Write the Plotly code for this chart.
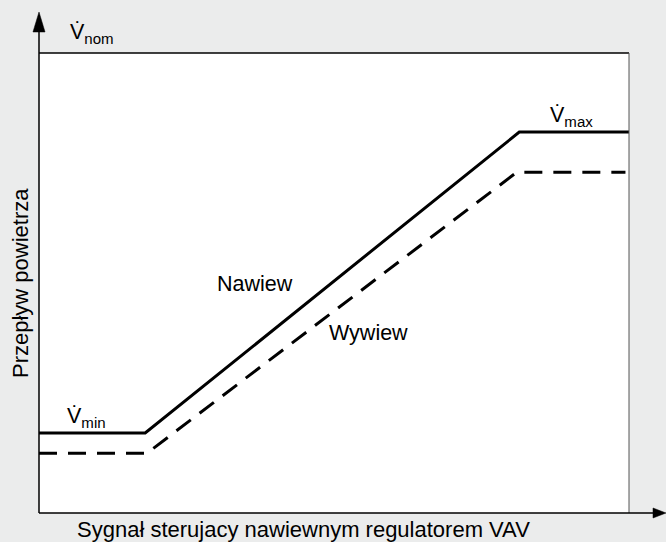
import plotly.graph_objects as go

# data
signal = [0, 18, 81.4, 100]
supply = [17.4, 17.4, 82.8, 82.8]
signal_ex = [0, 18.3, 81.0, 99.4]
exhaust = [13.0, 13.0, 74.1, 74.1]

BG = "#ebecec"
FONT = "Liberation Sans, Arial, sans-serif"
FS = 22

fig = go.Figure()
fig.add_trace(go.Scatter(x=signal, y=supply, mode="lines",
                         line=dict(color="black", width=3), hoverinfo="skip"))
fig.add_trace(go.Scatter(x=signal_ex, y=exhaust, mode="lines",
                         line=dict(color="black", width=3, dash="18px,11px"), hoverinfo="skip"))

shapes = [
    dict(type="line", xref="paper", yref="paper", x0=0, y0=1, x1=1, y1=1,
         line=dict(color="black", width=1.5)),
    dict(type="line", xref="paper", yref="paper", x0=1, y0=0, x1=1, y1=1,
         line=dict(color="#555", width=1)),
    dict(type="line", xref="paper", yref="paper", x0=0, y0=0, x1=0, y1=1.05,
         line=dict(color="black", width=1.5)),
    dict(type="path", xref="paper", yref="paper",
         path="M -0.0102 1.0457 L 0 1.089 L 0.0102 1.0457 Z",
         fillcolor="black", line=dict(color="black", width=0.5)),
    dict(type="line", xref="paper", yref="paper", x0=0, y0=0, x1=1.045, y1=0,
         line=dict(color="black", width=1.5)),
    dict(type="path", xref="paper", yref="paper",
         path="M 1.0407 -0.0109 L 1.0627 0 L 1.0407 0.0109 Z",
         fillcolor="black", line=dict(color="black", width=0.5)),
]

f = dict(family=FONT, size=FS, color="black")
fs = dict(family=FONT, size=21.5, color="black")
annotations = [
    dict(text="Nawiew", x=36.6, y=49.8, xref="x", yref="y", showarrow=False, font=fs),
    dict(text="Wywiew", x=55.9, y=39.1, xref="x", yref="y", showarrow=False, font=fs),
    dict(text="V\u0307<sub>max</sub>", x=86.3, y=82.8, xref="x", yref="y", showarrow=False,
         font=fs, xanchor="left", yanchor="bottom", yshift=0),
    dict(text="V\u0307<sub>min</sub>", x=4.4, y=17.4, xref="x", yref="y", showarrow=False,
         font=fs, xanchor="left", yanchor="bottom", yshift=0),
    dict(text="V\u0307<sub>nom</sub>", x=4.9, y=1.0, xref="x", yref="paper", showarrow=False,
         font=fs, xanchor="left", yanchor="bottom", yshift=4),
    dict(text="Przepływ powietrza", x=0, y=0.50, xref="paper", yref="paper",
         showarrow=False, font=f, textangle=-90, xanchor="center", yanchor="middle", xshift=-19),
    dict(text="Sygnał sterujacy nawiewnym regulatorem VAV", x=0.449, y=0, xref="paper",
         yref="paper", showarrow=False, font=f, yanchor="top", yshift=-2),
]

fig.update_layout(
    width=666, height=542,
    margin=dict(l=39, r=37, t=53, b=29),
    paper_bgcolor=BG, plot_bgcolor="white",
    showlegend=False,
    xaxis=dict(range=[0, 100], showgrid=False, zeroline=False, showticklabels=False,
               ticks="", showline=False, fixedrange=True),
    yaxis=dict(range=[0, 100], showgrid=False, zeroline=False, showticklabels=False,
               ticks="", showline=False, fixedrange=True),
    shapes=shapes, annotations=annotations,
)

fig.write_html("out.html",
               config={"displayModeBar": False},
               post_script="document.body.style.margin='0';"
                           "document.body.style.background='" + BG + "';"
                           "document.documentElement.style.background='" + BG + "';")
